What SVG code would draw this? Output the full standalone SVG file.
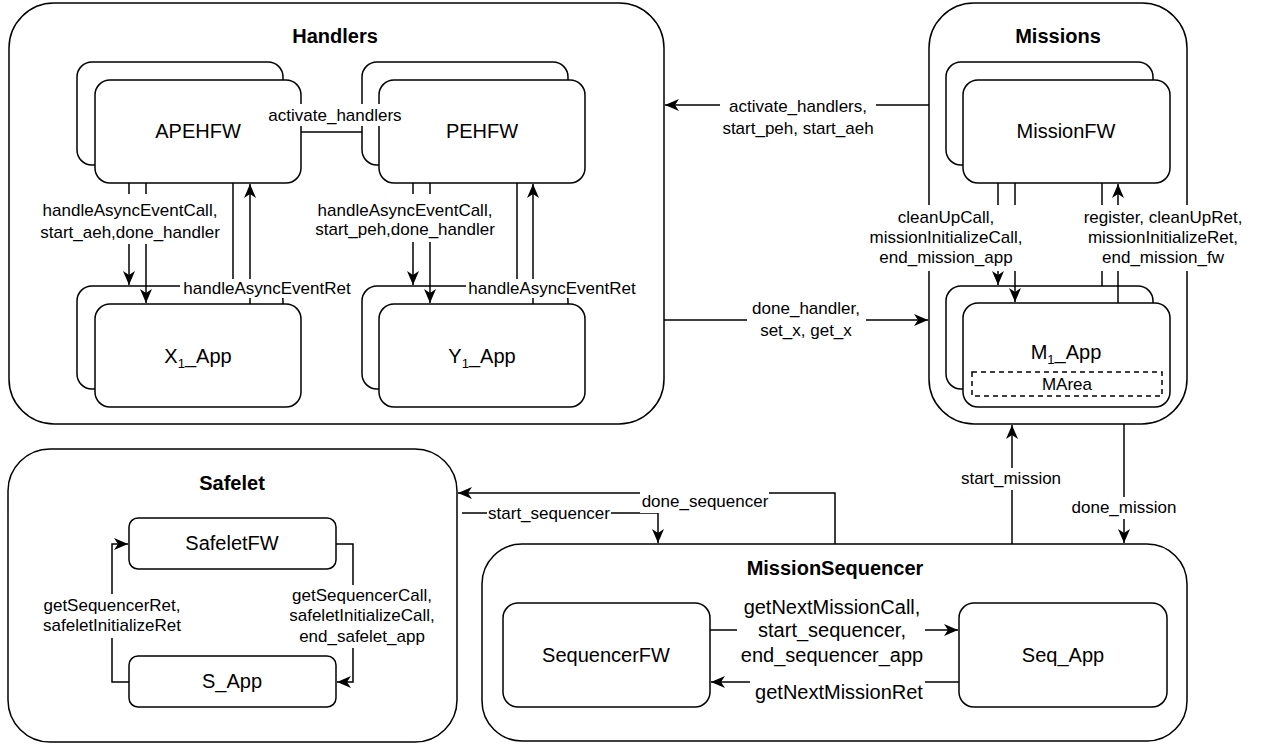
<svg xmlns="http://www.w3.org/2000/svg" width="1270" height="745" viewBox="0 0 1270 745">
<defs>
<style>
.c{fill:#fff;stroke:#000;stroke-width:1.5}
.n{fill:#fff;stroke:#000;stroke-width:1.5}
.d{fill:none;stroke:#000;stroke-width:1.5;stroke-dasharray:5 4}
.e{fill:none;stroke:#000;stroke-width:1.5}
.bg{fill:#fff;stroke:none}
.t{font-family:"Liberation Sans",Arial,sans-serif;font-size:20px;text-anchor:middle;fill:#000}
.h{font-family:"Liberation Sans",Arial,sans-serif;font-size:20px;font-weight:bold;text-anchor:middle;fill:#000}
.l{font-family:"Liberation Sans",Arial,sans-serif;font-size:17px;text-anchor:middle;fill:#000}
.s{font-size:13px}
</style>
<marker id="a" markerUnits="userSpaceOnUse" markerWidth="14" markerHeight="12" refX="14" refY="6" orient="auto">
<path d="M0,0 L14,6 L0,12 L4,6 z" fill="#000"/>
</marker>
</defs>
<rect width="1270" height="745" fill="#fff"/>

<g id="handlers">
<rect class="c" x="9" y="3" width="655" height="421" rx="45"/>
<text class="h" x="335" y="43">Handlers</text>
</g>
<g id="missions">
<rect class="c" x="929" y="3" width="258" height="421" rx="45"/>
<text class="h" x="1058" y="43">Missions</text>
</g>
<g id="safelet">
<rect class="c" x="8" y="449" width="449" height="293" rx="42"/>
<text class="h" x="232" y="490">Safelet</text>
</g>
<g id="missionsequencer">
<rect class="c" x="482" y="544" width="705" height="197" rx="40"/>
<text class="h" x="835" y="575">MissionSequencer</text>
</g>

<g id="apehfw">
<rect class="n" x="77" y="62" width="206" height="103" rx="15"/>
<rect class="n" x="95" y="80" width="206" height="103" rx="15"/>
<text class="t" x="198" y="138">APEHFW</text>
</g>
<g id="pehfw">
<rect class="n" x="362" y="62" width="206" height="103" rx="15"/>
<rect class="n" x="379" y="80" width="206" height="103" rx="15"/>
<text class="t" x="482" y="138">PEHFW</text>
</g>
<g id="x1app">
<rect class="n" x="77" y="286" width="206" height="103" rx="15"/>
<rect class="n" x="95" y="304" width="206" height="103" rx="15"/>
<text class="t" x="198" y="363">X<tspan class="s" dy="5">1</tspan><tspan dy="-5">_App</tspan></text>
</g>
<g id="y1app">
<rect class="n" x="362" y="286" width="206" height="103" rx="15"/>
<rect class="n" x="379" y="304" width="206" height="103" rx="15"/>
<text class="t" x="482" y="363">Y<tspan class="s" dy="5">1</tspan><tspan dy="-5">_App</tspan></text>
</g>
<g id="missionfw">
<rect class="n" x="946" y="62" width="207" height="103" rx="15"/>
<rect class="n" x="963" y="80" width="207" height="103" rx="15"/>
<text class="t" x="1066" y="138">MissionFW</text>
</g>
<g id="m1app">
<rect class="n" x="946" y="286" width="207" height="103" rx="15"/>
<rect class="n" x="963" y="303" width="207" height="104" rx="15"/>
<text class="t" x="1066" y="359">M<tspan class="s" dy="5">1</tspan><tspan dy="-5">_App</tspan></text>
<rect class="d" x="972" y="372" width="190" height="24"/>
<text class="l" x="1067" y="390">MArea</text>
</g>
<g id="safeletfw">
<rect class="n" x="129" y="518" width="207" height="51" rx="9"/>
<text class="t" x="232" y="550">SafeletFW</text>
</g>
<g id="sapp">
<rect class="n" x="129" y="656" width="207" height="51" rx="9"/>
<text class="t" x="232" y="688">S_App</text>
</g>
<g id="sequencerfw">
<rect class="n" x="503" y="603" width="207" height="104" rx="15"/>
<text class="t" x="606" y="662">SequencerFW</text>
</g>
<g id="seqapp">
<rect class="n" x="959" y="603" width="208" height="104" rx="15"/>
<text class="t" x="1063" y="662">Seq_App</text>
</g>

<g id="connectors">
<!-- handlers internal -->
<path class="e" d="M301,132 H362"/>
<path class="e" d="M129,183 V285" marker-end="url(#a)"/>
<path class="e" d="M146,183 V303" marker-end="url(#a)"/>
<path class="e" d="M233,183 V286"/>
<path class="e" d="M250,304 V184" marker-end="url(#a)"/>
<path class="e" d="M413,183 V285" marker-end="url(#a)"/>
<path class="e" d="M430,183 V303" marker-end="url(#a)"/>
<path class="e" d="M517,183 V286"/>
<path class="e" d="M533,304 V184" marker-end="url(#a)"/>
<!-- missions internal -->
<path class="e" d="M998,183 V285" marker-end="url(#a)"/>
<path class="e" d="M1015,183 V302" marker-end="url(#a)"/>
<path class="e" d="M1102,183 V286"/>
<path class="e" d="M1118,303 V184" marker-end="url(#a)"/>
<!-- between containers -->
<path class="e" d="M929,105 H665" marker-end="url(#a)"/>
<path class="e" d="M664,320 H928" marker-end="url(#a)"/>
<path class="e" d="M835,544 V493 H458" marker-end="url(#a)"/>
<path class="e" d="M462,513 H658 V543" marker-end="url(#a)"/>
<path class="e" d="M1012,544 V425" marker-end="url(#a)"/>
<path class="e" d="M1124,424 V543" marker-end="url(#a)"/>
<!-- safelet internal -->
<path class="e" d="M336,544 H353 V682 H337" marker-end="url(#a)"/>
<path class="e" d="M129,682 H112 V544 H128" marker-end="url(#a)"/>
<!-- sequencer internal -->
<path class="e" d="M710,630 H958" marker-end="url(#a)"/>
<path class="e" d="M959,682 H711" marker-end="url(#a)"/>

<!-- labels -->
<rect class="bg" x="261" y="104" width="149" height="22"/>
<text class="l" x="335" y="121">activate_handlers</text>
<rect class="bg" x="38" y="194" width="185" height="50"/>
<text class="l" x="130" y="216">handleAsyncEventCall,</text>
<text class="l" x="130" y="238">start_aeh,done_handler</text>
<rect class="bg" x="180" y="279" width="175" height="19"/>
<text class="l" x="267" y="294">handleAsyncEventRet</text>
<rect class="bg" x="314" y="194" width="183" height="48"/>
<text class="l" x="405" y="216">handleAsyncEventCall,</text>
<text class="l" x="405" y="235">start_peh,done_handler</text>
<rect class="bg" x="466" y="279" width="172" height="19"/>
<text class="l" x="552" y="294">handleAsyncEventRet</text>
<rect class="bg" x="720" y="95" width="156" height="45"/>
<text class="l" x="798" y="112">activate_handlers,</text>
<text class="l" x="798" y="134">start_peh, start_aeh</text>
<rect class="bg" x="747" y="298" width="119" height="44"/>
<text class="l" x="806" y="314">done_handler,</text>
<text class="l" x="806" y="336">set_x, get_x</text>
<rect class="bg" x="871" y="205" width="151" height="66"/>
<text class="l" x="946" y="223">cleanUpCall,</text>
<text class="l" x="946" y="243">missionInitializeCall,</text>
<text class="l" x="946" y="263">end_mission_app</text>
<rect class="bg" x="1087" y="205" width="153" height="66"/>
<text class="l" x="1163" y="223">register, cleanUpRet,</text>
<text class="l" x="1163" y="243">missionInitializeRet,</text>
<text class="l" x="1163" y="263">end_mission_fw</text>
<rect class="bg" x="40" y="594" width="145" height="44"/>
<text class="l" x="112" y="611">getSequencerRet,</text>
<text class="l" x="112" y="631">safeletInitializeRet</text>
<rect class="bg" x="287" y="585" width="150" height="63"/>
<text class="l" x="362" y="601">getSequencerCall,</text>
<text class="l" x="362" y="621">safeletInitializeCall,</text>
<text class="l" x="362" y="642">end_safelet_app</text>
<rect class="bg" x="640" y="492" width="129" height="21"/>
<text class="l" x="705" y="507">done_sequencer</text>
<rect class="bg" x="487" y="505" width="124" height="19"/>
<text class="l" x="549" y="519">start_sequencer</text>
<rect class="bg" x="964" y="468" width="94" height="22"/>
<text class="l" x="1011" y="484">start_mission</text>
<rect class="bg" x="1070" y="497" width="108" height="22"/>
<text class="l" x="1124" y="513">done_mission</text>
<rect class="bg" x="737" y="592" width="188" height="76"/>
<text class="t" x="832" y="614">getNextMissionCall,</text>
<text class="t" x="832" y="637">start_sequencer,</text>
<text class="t" x="832" y="662">end_sequencer_app</text>
<rect class="bg" x="750" y="680" width="175" height="25"/>
<text class="t" x="839" y="699">getNextMissionRet</text>
</g>
</svg>
